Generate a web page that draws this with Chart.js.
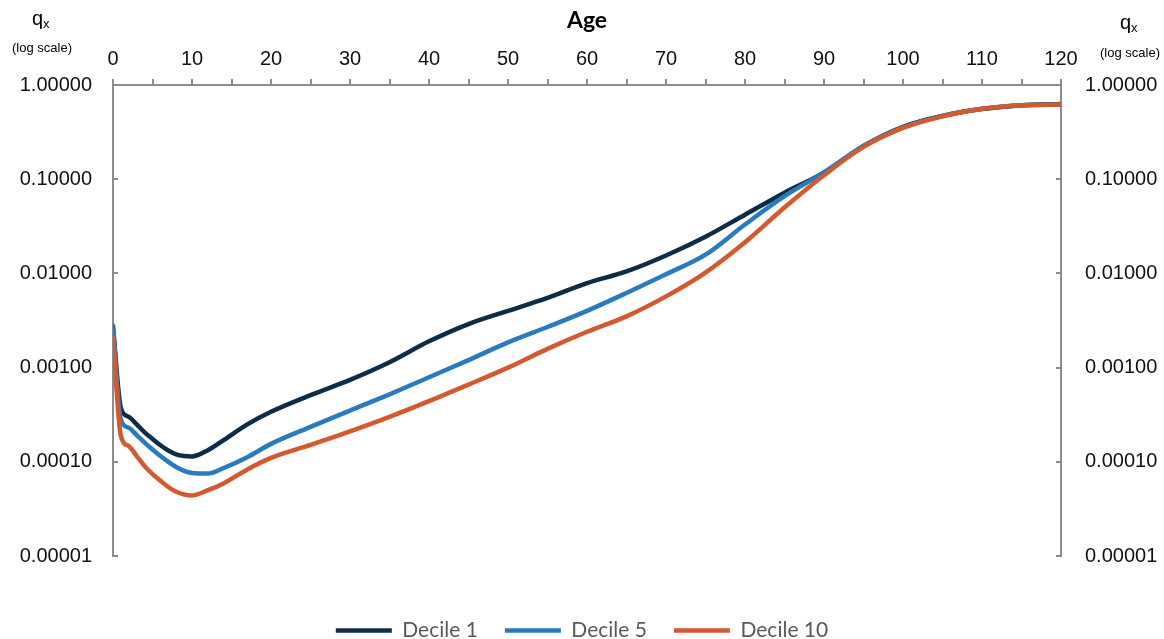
<!DOCTYPE html>
<html>
<head>
<meta charset="utf-8">
<script src="https://cdn.jsdelivr.net/npm/chart.js@4/dist/chart.umd.min.js"></script>
<style>
  html, body { margin: 0; padding: 0; background: #fff; }
  #wrap { width: 1164px; height: 639px; position: relative; }
</style>
</head>
<body>
<div id="wrap"><canvas id="qxChart"></canvas></div>
<script>
// ages (years)
const ages = [0, 1, 2, 3, 4, 5, 6, 7, 8, 9, 10, 12, 14, 17, 20, 25, 30, 35, 40, 45, 50, 55, 60, 65, 70, 75, 80, 85, 90, 95, 100, 105, 110, 115, 120];

// mortality rates q_x per decile
const decile1 = [0.0027, 0.00037, 0.00030, 0.00025, 0.000205, 0.000175, 0.000150, 0.000132, 0.000120, 0.000115, 0.000114,
  0.000133, 0.00017, 0.00025, 0.00034, 0.00051, 0.00074, 0.00114, 0.0019, 0.0029, 0.0040, 0.0055, 0.0079, 0.0105,
  0.0155, 0.0245, 0.042, 0.072, 0.117, 0.225, 0.36, 0.47, 0.555, 0.61, 0.63];
const decile5 = [0.0028, 0.00028, 0.00023, 0.000192, 0.000160, 0.000135, 0.000115, 0.000100, 0.000088, 0.000080, 0.000076,
  0.000075, 0.000086, 0.000112, 0.000155, 0.000235, 0.00035, 0.00052, 0.00079, 0.0012, 0.00185, 0.0027, 0.0040, 0.0062,
  0.0098, 0.0158, 0.033, 0.066, 0.118, 0.225, 0.355, 0.47, 0.56, 0.61, 0.62];
const decile10 = [0.0021, 0.000187, 0.000147, 0.000115, 0.000090, 0.000074, 0.000063, 0.000054, 0.000048, 0.000045, 0.000044,
  0.000050, 0.000059, 0.000083, 0.000110, 0.000151, 0.00021, 0.00030, 0.00044, 0.00066, 0.00100, 0.00158, 0.0024, 0.0035,
  0.0057, 0.0102, 0.0214, 0.050, 0.11, 0.22, 0.35, 0.465, 0.56, 0.61, 0.62];

const seriesNames = ['Decile 1', 'Decile 5', 'Decile 10'];
const qxTicks = [1, 0.1, 0.01, 0.001, 0.0001, 0.00001];

const axisGrey = '#8c8c8c';
const tickFont = { family: '"Liberation Sans", Arial, sans-serif', size: 20 };

const toPoints = vals => ages.map((a, i) => ({ x: a, y: vals[i] }));

const lineSet = (label, vals, color, order) => ({
  label: label,
  data: toPoints(vals),
  borderColor: color,
  backgroundColor: color,
  borderWidth: 4.5,
  borderCapStyle: 'round',
  borderJoinStyle: 'round',
  pointRadius: 0,
  cubicInterpolationMode: 'monotone',
  fill: false,
  order: order
});

// the q_x / (log scale) captions above both y axes
const axisCaptions = {
  id: 'axisCaptions',
  afterDraw(chart) {
    const ctx = chart.ctx;
    ctx.save();
    ctx.fillStyle = '#000';
    ctx.textBaseline = 'alphabetic';
    const caption = (cx, qy, sy) => {
      ctx.font = '20px "Liberation Sans", Arial, sans-serif';
      ctx.textAlign = 'right';
      ctx.fillText('q', cx + 1, qy);
      ctx.font = '13px "Liberation Sans", Arial, sans-serif';
      ctx.textAlign = 'left';
      ctx.fillText('x', cx + 1, qy + 3);
      ctx.textAlign = 'center';
      ctx.fillText('(log scale)', cx, sy);
    };
    caption(42, 25, 52);
    caption(1130, 29, 57);
    ctx.restore();
  }
};

const logAxis = (position, pad, width) => ({
  type: 'logarithmic',
  position: position,
  min: 0.00001,
  max: 1,
  afterBuildTicks: scale => { scale.ticks = qxTicks.map(v => ({ value: v })); },
  afterFit: scale => { scale.width = width; },
  ticks: {
    color: '#111',
    font: tickFont,
    padding: pad,
    callback: v => Number(v).toFixed(5)
  },
  grid: { drawOnChartArea: false, drawTicks: true, tickLength: -5, color: axisGrey, lineWidth: 2 },
  border: { display: true, color: axisGrey, width: 2 }
});

new Chart(document.getElementById('qxChart'), {
  type: 'line',
  data: {
    datasets: [
      lineSet(seriesNames[0], decile1, '#0c2d48', 3),
      lineSet(seriesNames[1], decile5, '#2a7abf', 2),
      lineSet(seriesNames[2], decile10, '#d4592f', 1)
    ]
  },
  options: {
    responsive: true,
    maintainAspectRatio: false,
    animation: false,
    devicePixelRatio: 1,
    layout: { padding: { top: 0, left: 0, right: 0, bottom: -12 } },
    scales: {
      x: {
        type: 'linear',
        position: 'top',
        min: 0,
        max: 120,
        afterFit: scale => { scale.height = 85; },
        ticks: {
          stepSize: 5,
          color: '#111',
          font: tickFont,
          padding: 8,
          maxRotation: 0,
          autoSkip: false,
          callback: v => (v % 10 === 0 ? v : '')
        },
        grid: { drawOnChartArea: false, drawTicks: true, tickLength: 6, color: axisGrey, lineWidth: 2 },
        border: { display: true, color: axisGrey, width: 2 },
        title: {
          display: true,
          text: 'Age',
          color: '#000',
          font: { family: 'Lato, "Open Sans", sans-serif', size: 23, weight: 'bold' },
          padding: { top: 7, bottom: 0 }
        }
      },
      y: logAxis('left', 26, 113),
      y2: logAxis('right', 29, 103)
    },
    plugins: {
      legend: {
        position: 'bottom',
        title: { display: true, text: '', font: { size: 10, lineHeight: 1 }, padding: { top: 27, bottom: 0 } },
        labels: {
          usePointStyle: true,
          pointStyle: 'line',
          pointStyleWidth: 56,
          padding: 27,
          color: '#595959',
          font: { family: 'Lato, "Open Sans", sans-serif', size: 21 },
          sort: (a, b) => a.datasetIndex - b.datasetIndex
        }
      },
      tooltip: { enabled: false }
    }
  },
  plugins: [axisCaptions]
});
</script>
</body>
</html>
